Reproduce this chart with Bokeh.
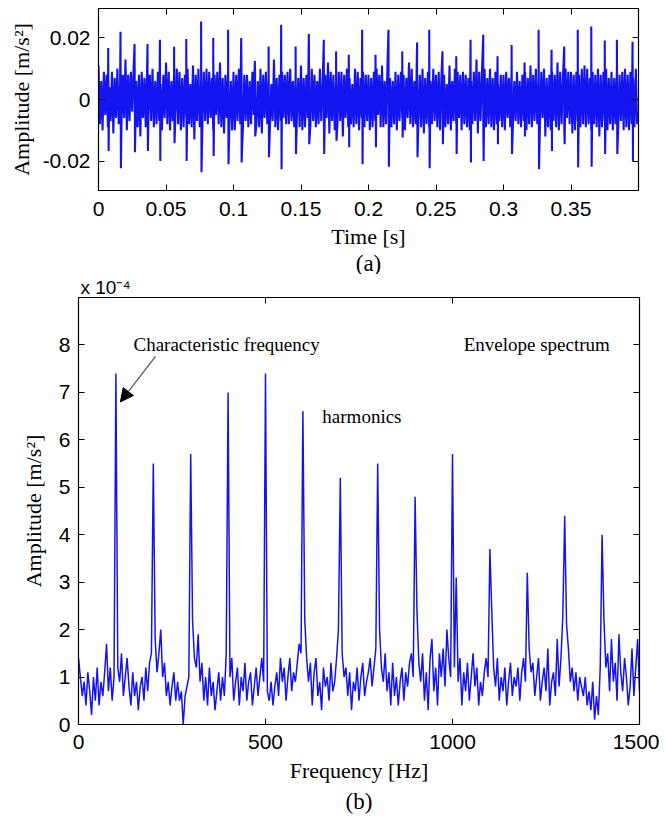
import numpy as np
from bokeh.plotting import figure
from bokeh.models import (Range1d, FixedTicker, CustomJSTickFormatter, LinearAxis,
                          Label, Arrow, NormalHead, Title)
from bokeh.embed import file_html
from bokeh.resources import INLINE

# ---------------- data: (a) time signal ----------------
# background vibration, one sample per ms, in units of 1e-3 m/s^2
noise = [
    11,-8,6,-10,9,-5,8,-9,4,-7,   9,-11,7,-6,10,-8,5,-9,8,-6,
    13,-10,8,-7,9,-4,10,-8,6,-9,  8,-12,9,-6,7,-9,10,-5,8,-7,
    10,-9,6,-8,9,-7,5,-10,8,-6,   12,-8,9,-10,6,-7,9,-5,10,-8,
    9,-10,7,-9,8,-6,10,-8,5,-9,   11,-13,8,-7,10,-9,6,-8,9,-7,
    10,-8,9,-6,7,-10,8,-5,9,-8,   12,-9,7,-11,8,-6,9,-8,6,-10,
    9,-10,8,-7,10,-8,5,-9,8,-7,   8,-9,6,-8,9,-5,7,-8,6,-9,
    10,-11,8,-6,9,-8,7,-9,5,-7,   13,-9,7,-10,8,-7,9,-6,8,-8,
    9,-8,10,-7,6,-9,8,-5,7,-9,    11,-10,7,-9,8,-6,9,-8,10,-7,
    8,-9,6,-8,10,-7,5,-9,8,-6,    12,-11,9,-7,8,-10,6,-8,9,-7,
    9,-12,8,-6,10,-9,7,-8,5,-9,   10,-8,9,-10,7,-6,9,-9,8,-7,
    8,-10,7,-9,9,-7,10,-5,8,-9,   11,-9,6,-8,10,-8,7,-9,6,-8,
    9,-10,8,-7,9,-6,8,-10,7,-6,   12,-8,10,-9,6,-8,9,-7,8,-9,
    10,-11,7,-8,9,-9,6,-8,10,-7,  8,-9,9,-10,7,-6,8,-9,5,-8,
    11,-10,6,-7,10,-8,9,-6,8,-10, 9,-8,8,-9,7,-10,6,-8,9,-7,
    13,-11,9,-7,8,-6,10,-9,7,-8,  10,-9,7,-10,9,-8,5,-7,8,-9,
    8,-10,9,-6,7,-9,10,-8,6,-7,   9,-8,6,-9,8,-7,9,-10,7,-8,
    11,-9,8,-7,10,-8,6,-9,9,-6,   10,-12,7,-9,8,-10,9,-7,8,-9,
    12,-10,9,-8,7,-9,10,-6,9,-8,  9,-11,8,-10,9,-7,8,-9,10,-8,
    11,-9,10,-8,7,-10,9,-8,8,-9,  10,-12,8,-9,9,-7,10,-10,7,-8,
    9,-10,7,-8,10,-9,8,-7,9,-10,  10,-9,8,-10,9,-8,7,-9,10,-8,
]
noise_dt = 0.001  # s

# fault impulses (s) and their positive / negative extremes (1e-3 m/s^2)
spike_t = [0.0072, 0.0163, 0.0267, 0.0363, 0.0455, 0.0560, 0.0650, 0.0760, 0.0850, 0.0960,
           0.1057, 0.1158, 0.1260, 0.1353, 0.1460, 0.1558, 0.1669, 0.1760, 0.1854, 0.1953,
           0.2052, 0.2148, 0.2250, 0.2360, 0.2450, 0.2548, 0.2650, 0.2756, 0.2850, 0.2956,
           0.3060, 0.3156, 0.3260, 0.3356, 0.3450, 0.3550, 0.3650, 0.3750, 0.3840, 0.3956]
spike_pos = [16.7, 22.0, 18.0, 18.0, 19.4, 17.1, 19.6, 25.3, 19.9, 22.6,
             19.9, 12.5, 17.2, 24.2, 17.2, 21.2, 19.4, 15.6, 14.5, 22.6,
             14.5, 22.6, 15.6, 18.5, 22.6, 15.6, 14.0, 19.4, 21.0, 14.0,
             17.7, 12.0, 22.6, 16.1, 17.2, 22.6, 23.7, 19.1, 19.4, 18.7]
spike_neg = [-16.7, -22.3, -17.1, -16.7, -19.9, -14.2, -19.9, -23.6, -18.3, -21.0,
             -20.4, -12.0, -18.7, -22.6, -17.7, -14.5, -17.7, -13.4, -15.5, -21.0,
             -15.5, -21.8, -12.3, -18.7, -22.3, -14.5, -17.7, -20.4, -19.9, -14.5,
             -17.7, -12.0, -22.6, -16.7, -14.5, -22.0, -21.8, -17.7, -17.7, -19.9]

time_ticks = [0, 0.05, 0.1, 0.15, 0.2, 0.25, 0.3, 0.35]
amp_ticks_a = [-0.02, 0, 0.02]

# ---------------- data: (b) envelope spectrum ----------------
freq_step = 5  # Hz
# amplitude per 5 Hz bin, units of 1e-5 m/s^2, 0 .. 1500 Hz
spectrum = [
    14,10,6,9,4,11,7,2,10,5,12,4,9,6,11,17,7,12,5,10,
    74,12,9,15,6,10,14,8,4,11,6,9,3,8,10,5,12,7,13,15,
    55,18,11,15,20,10,13,6,9,4,8,11,5,9,5,7,0,6,8,10,
    57,22,14,12,19,9,13,5,10,4,12,6,9,3,7,11,5,10,6,15,
    70,10,14,5,9,12,4,10,7,13,5,9,11,4,8,12,6,10,14,9,
    74,7,5,9,4,8,11,6,14,9,12,5,10,14,7,11,9,13,17,15,
    66,22,14,9,13,4,11,14,6,9,3,12,8,10,5,13,7,9,14,20,
    52,15,10,12,6,11,3,9,7,12,5,10,13,6,9,11,14,8,12,16,
    55,20,12,9,15,7,11,4,13,6,10,4,9,12,5,11,8,13,15,10,
    48,24,13,9,15,5,11,3,14,18,7,12,4,15,10,16,8,20,14,10,
    57,12,31,9,14,4,11,7,13,5,10,15,8,12,4,9,6,11,14,10,
    37,24,12,8,14,5,10,7,12,4,9,13,6,10,8,12,5,11,14,9,
    32,16,11,13,6,10,14,5,9,12,7,16,4,9,11,6,18,8,14,23,
    44,21,16,9,12,7,11,5,10,8,6,10,4,7,3,9,1,6,2,12,
    40,22,12,15,7,18,9,13,5,19,11,7,14,10,4,8,16,6,12,18,
    7,
]
freq_ticks = [0, 500, 1000, 1500]
amp_ticks_b = [0, 0.0001, 0.0002, 0.0003, 0.0004, 0.0005, 0.0006, 0.0007, 0.0008]

# ---------------- styling ----------------
BLUE = "#1414f0"
SANS = "Liberation Sans"
SERIF = "Liberation Serif"
TICK_FS = "21px"
LABEL_FS = "22px"


def style_axis(ax, label_standoff, tick_standoff):
    ax.axis_line_color = "black"
    ax.axis_line_width = 1.2
    ax.major_tick_in = 6
    ax.major_tick_out = 0
    ax.major_tick_line_color = "black"
    ax.minor_tick_line_color = None
    ax.major_label_text_font = SANS
    ax.major_label_text_font_size = TICK_FS
    ax.major_label_text_color = "black"
    ax.major_label_standoff = tick_standoff
    ax.axis_label_text_font = SERIF
    ax.axis_label_text_font_size = LABEL_FS
    ax.axis_label_text_font_style = "normal"
    ax.axis_label_text_color = "black"
    ax.axis_label_standoff = label_standoff


def mirror_axes(p, xticks, yticks):
    top = LinearAxis(ticker=FixedTicker(ticks=xticks))
    right = LinearAxis(ticker=FixedTicker(ticks=yticks))
    for ax in (top, right):
        ax.formatter = CustomJSTickFormatter(code="return '';")
        ax.major_label_standoff = 0
        ax.major_tick_in = 6
        ax.major_tick_out = 0
        ax.minor_tick_line_color = None
        ax.axis_line_color = "black"
        ax.axis_line_width = 1.2
        ax.major_tick_line_color = "black"
    p.add_layout(top, "above")
    p.add_layout(right, "right")


# ---------------- (a) ----------------
t_noise = [i * noise_dt for i in range(len(noise))]
pts = [(t, v * 1e-3) for t, v in zip(t_noise, noise)]
for ts, vp, vn in zip(spike_t, spike_pos, spike_neg):
    pts.append((ts, vp * 1e-3))
    pts.append((ts + 0.0003, vn * 1e-3))
pts.sort(key=lambda a: a[0])
ta = [a[0] for a in pts]
va = [a[1] for a in pts]

p1 = figure(frame_width=540, frame_height=182, output_backend="svg", toolbar_location=None,
            x_range=Range1d(0, 0.4), y_range=Range1d(-0.0295, 0.0295),
            min_border_left=98, min_border_right=20, min_border_top=8, min_border_bottom=84)
p1.line(ta, va, line_color=BLUE, line_width=2.1)
p1.xgrid.visible = False
p1.ygrid.visible = False
p1.outline_line_color = "black"
p1.xaxis.ticker = FixedTicker(ticks=time_ticks)
p1.yaxis.ticker = FixedTicker(ticks=amp_ticks_a)
p1.xaxis.formatter = CustomJSTickFormatter(code="return tick == 0 ? '0' : String(parseFloat(tick.toFixed(3)));")
p1.yaxis.formatter = CustomJSTickFormatter(code="return tick == 0 ? '0' : tick.toFixed(2);")
p1.xaxis.axis_label = "Time [s]"
p1.yaxis.axis_label = "Amplitude [m/s²]"
style_axis(p1.xaxis[0], 5, 11)
style_axis(p1.yaxis[0], 6, 8)
mirror_axes(p1, time_ticks + [0.4], amp_ticks_a)
p1.add_layout(Title(text="(a)", align="center", text_font=SERIF, text_font_size="23px",
                    text_font_style="normal", text_color="black", standoff=-6), "below")

# ---------------- (b) ----------------
fb = [i * freq_step for i in range(len(spectrum))]
ab = [v * 1e-5 for v in spectrum]

p2 = figure(frame_width=561, frame_height=427, output_backend="svg", toolbar_location=None,
            x_range=Range1d(0, 1500), y_range=Range1d(0, 0.0009),
            min_border_left=78, min_border_right=20, min_border_top=17, min_border_bottom=96)
p2.line(fb, ab, line_color=BLUE, line_width=1.5)
p2.xgrid.visible = False
p2.ygrid.visible = False
p2.outline_line_color = "black"
p2.xaxis.ticker = FixedTicker(ticks=freq_ticks)
p2.yaxis.ticker = FixedTicker(ticks=amp_ticks_b)
p2.yaxis.formatter = CustomJSTickFormatter(code="return (tick * 1e4).toFixed(0);")
p2.xaxis.axis_label = "Frequency [Hz]"
p2.yaxis.axis_label = "Amplitude [m/s²]"
style_axis(p2.xaxis[0], 6, 10)
style_axis(p2.yaxis[0], 10, 8)
mirror_axes(p2, freq_ticks, amp_ticks_b)
p2.add_layout(Title(text="(b)", align="center", text_font=SERIF, text_font_size="23px",
                    text_font_style="normal", text_color="black", standoff=3), "below")
# exponent marker of the amplitude axis
p2.add_layout(Title(text="x 10⁻⁴", align="left", offset=2, text_font=SANS,
                    text_font_size="19px", text_font_style="normal", text_color="black",
                    standoff=0), "above")

# annotations
for txt, x, y in [("Characteristic frequency", 147, 0.000801),
                  ("harmonics", 652, 0.000649),
                  ("Envelope spectrum", 1030, 0.000801)]:
    p2.add_layout(Label(x=x, y=y, text=txt, text_font=SERIF, text_font_size="19px",
                        text_baseline="middle", text_align="left", text_color="black"))
p2.add_layout(Arrow(end=NormalHead(size=13, fill_color="black", line_color="black"),
                    x_start=206, y_start=0.000776, x_end=112, y_end=0.000680,
                    line_color="#555555", line_width=1.2))

open("out.html", "w").write(file_html([p1, p2], INLINE))
